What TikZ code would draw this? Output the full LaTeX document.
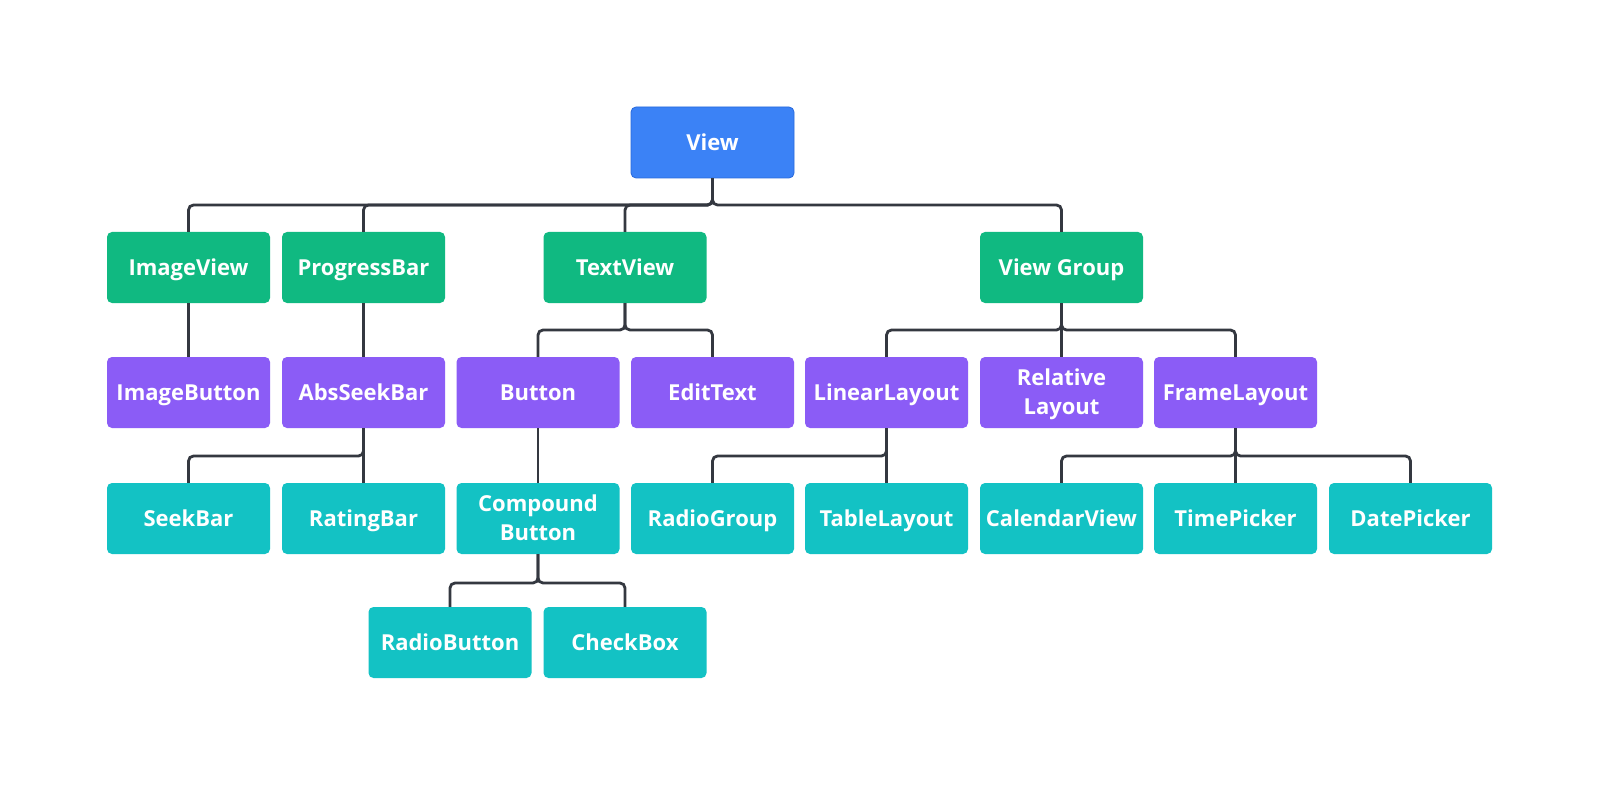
\documentclass[tikz,border=0pt]{standalone}
\usepackage{fontspec}
\setmainfont{Open Sans}
\definecolor{cblue}{RGB}{59,130,246}
\definecolor{cblueb}{RGB}{40,105,220}
\definecolor{cgreen}{RGB}{16,185,129}
\definecolor{cpurple}{RGB}{139,92,246}
\definecolor{cteal}{RGB}{19,194,196}
\definecolor{clink}{RGB}{52,56,64}
\begin{document}
\begin{tikzpicture}[x=1pt,y=-1pt,
  box/.style={rounded corners=5pt, minimum width=163pt, minimum height=71pt, inner sep=0pt,
    text=white, font=\fontsize{22}{29}\selectfont\bfseries, align=center,
    text height=22pt, text depth=6.3pt},
  twoline/.style={text height=, text depth=1pt},
  rootbox/.style={box, fill=cblue, draw=cblueb, line width=0.8pt},
  greenbox/.style={box, fill=cgreen},
  purplebox/.style={box, fill=cpurple},
  tealbox/.style={box, fill=cteal},
  link/.style={draw=clink, line width=2.8pt, rounded corners=5pt}]
\useasboundingbox[fill=white] (0,0) rectangle (1600,786);

\node[rootbox] (view) at (712.5,142.5) {View};

\node[greenbox] (imageview) at (188.5,267.5) {ImageView};
\node[greenbox] (progressbar) at (363.5,267.5) {ProgressBar};
\node[greenbox] (textview) at (625,267.5) {TextView};
\node[greenbox] (viewgroup) at (1061.5,267.5) {View Group};

\node[purplebox] (imagebutton) at (188.5,392.5) {ImageButton};
\node[purplebox] (absseekbar) at (363.5,392.5) {AbsSeekBar};
\node[purplebox] (button) at (538,392.5) {Button};
\node[purplebox] (edittext) at (712.5,392.5) {EditText};
\node[purplebox] (linearlayout) at (886.5,392.5) {LinearLayout};
\node[purplebox, twoline] (relativelayout) at (1061.5,392.5) {Relative\\Layout};
\node[purplebox] (framelayout) at (1235.5,392.5) {FrameLayout};

\node[tealbox] (seekbar) at (188.5,518.5) {SeekBar};
\node[tealbox] (ratingbar) at (363.5,518.5) {RatingBar};
\node[tealbox, twoline] (compound) at (538,518.5) {Compound\\Button};
\node[tealbox] (radiogroup) at (712.5,518.5) {RadioGroup};
\node[tealbox] (tablelayout) at (886.5,518.5) {TableLayout};
\node[tealbox] (calendarview) at (1061.5,518.5) {CalendarView};
\node[tealbox] (timepicker) at (1235.5,518.5) {TimePicker};
\node[tealbox] (datepicker) at (1410.5,518.5) {DatePicker};

\node[tealbox] (radiobutton) at (450,642.5) {RadioButton};
\node[tealbox] (checkbox) at (625,642.5) {CheckBox};

% bent connectors
\foreach \c in {imageview,progressbar,textview,viewgroup}
  \draw[link] (view.south) -- (view.south |- 0,205) -- (\c.north |- 0,205) -- (\c.north);
\foreach \c in {button,edittext}
  \draw[link] (textview.south) -- (textview.south |- 0,330) -- (\c.north |- 0,330) -- (\c.north);
\foreach \c in {linearlayout,framelayout}
  \draw[link] (viewgroup.south) -- (viewgroup.south |- 0,330) -- (\c.north |- 0,330) -- (\c.north);
\draw[link] (absseekbar.south) -- (absseekbar.south |- 0,456) -- (seekbar.north |- 0,456) -- (seekbar.north);
\draw[link] (linearlayout.south) -- (linearlayout.south |- 0,456) -- (radiogroup.north |- 0,456) -- (radiogroup.north);
\foreach \c in {calendarview,datepicker}
  \draw[link] (framelayout.south) -- (framelayout.south |- 0,456) -- (\c.north |- 0,456) -- (\c.north);
\foreach \c in {radiobutton,checkbox}
  \draw[link] (compound.south) -- (compound.south |- 0,583) -- (\c.north |- 0,583) -- (\c.north);

% straight connectors
\draw[link] (imageview.south) -- (imagebutton.north);
\draw[link] (progressbar.south) -- (absseekbar.north);
\draw[link] (viewgroup.south) -- (relativelayout.north);
\draw[link] (absseekbar.south) -- (ratingbar.north);
\draw[link] (button.south) -- (compound.north);
\draw[link] (linearlayout.south) -- (tablelayout.north);
\draw[link] (framelayout.south) -- (timepicker.north);
\end{tikzpicture}
\end{document}
